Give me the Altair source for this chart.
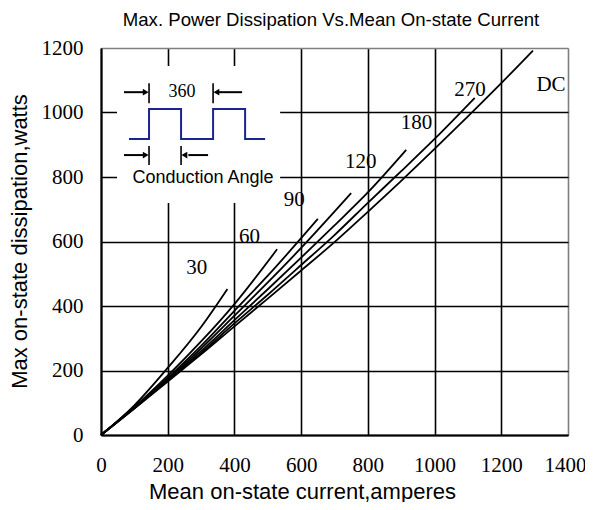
import altair as alt
import pandas as pd

# ---------------- data ----------------
x_ticks = [0, 200, 400, 600, 800, 1000, 1200, 1400]
y_ticks = [0, 200, 400, 600, 800, 1000, 1200]

cur_30 = [0, 100, 200, 300, 379]
pow_30 = [0, 92, 208, 335, 453]
cur_60 = [0, 100, 200, 300, 400, 528]
pow_60 = [0, 87, 184, 290, 406, 576]
cur_90 = [0, 100, 200, 300, 400, 500, 650]
pow_90 = [0, 85, 177, 276, 385, 494, 670]
cur_120 = [0, 100, 200, 300, 400, 500, 600, 750]
pow_120 = [0, 84, 173, 268, 370, 473, 580, 750]
cur_180 = [0, 100, 200, 300, 400, 500, 600, 700, 800, 915]
pow_180 = [0, 83, 170, 260, 356, 452, 550, 650, 752, 884]
cur_270 = [0, 100, 200, 300, 400, 500, 600, 700, 800, 900, 1000, 1120]
pow_270 = [0, 83, 168, 254, 346, 435, 527, 620, 720, 818, 918, 1045]
cur_dc = [0, 100, 200, 300, 400, 500, 600, 700, 800, 900, 1000, 1100, 1200, 1295]
pow_dc = [0, 82, 166, 250, 337, 423, 510, 598, 692, 788, 887, 988, 1091, 1192]

series_names = ["30", "60", "90", "120", "180", "270", "DC"]
series_cur = [cur_30, cur_60, cur_90, cur_120, cur_180, cur_270, cur_dc]
series_pow = [pow_30, pow_60, pow_90, pow_120, pow_180, pow_270, pow_dc]

label_x = [287, 445, 579, 779, 946, 1106, 1349]
label_y = [519, 615, 729, 848, 966, 1070, 1085]

# inset (conduction-angle sketch), in data units
inset_box_x = [48]
inset_box_x2 = [537]
inset_box_y = [719]
inset_box_y2 = [1144]

wave_x = [84, 144, 144, 240, 240, 336, 336, 432, 432, 492]
wave_y = [918, 918, 1011, 1011, 918, 918, 1011, 1011, 918, 918]

bar_x = [144, 336, 144, 240]
bar_y = [1029, 1029, 837, 837]
bar_y2 = [1091, 1091, 896, 896]

arrow_x = [69, 350, 69, 262]
arrow_x2 = [134, 423, 134, 321]
arrow_y = [1063, 1063, 868, 868]
head_x = [134, 346, 134, 250]
head_y = [1063, 1063, 868, 868]
head_shape = ["triangle-right", "triangle-left", "triangle-right", "triangle-left"]

angle_text = ["360"]
angle_text_x = [243]
angle_text_y = [1063]
caption_text = ["Conduction Angle"]
caption_x = [306]
caption_y = [797]

chart_title = ["Max. Power Dissipation Vs.Mean On-state Current"]

# ---------------- tables ----------------
rows = []
for name, xs, ys in zip(series_names, series_cur, series_pow):
    for a, b in zip(xs, ys):
        rows.append({"series": name, "x": a, "y": b})
curves = pd.DataFrame(rows)
labels = pd.DataFrame({"t": series_names, "x": label_x, "y": label_y})
box = pd.DataFrame({"x": inset_box_x, "x2": inset_box_x2, "y": inset_box_y, "y2": inset_box_y2})
wave = pd.DataFrame({"i": list(range(len(wave_x))), "x": wave_x, "y": wave_y})
bars = pd.DataFrame({"x": bar_x, "y": bar_y, "y2": bar_y2})
arrows = pd.DataFrame({"x": arrow_x, "x2": arrow_x2, "y": arrow_y})
heads = pd.DataFrame({"x": head_x, "y": head_y, "shape": head_shape})
atext = pd.DataFrame({"t": angle_text, "x": angle_text_x, "y": angle_text_y})
ctext = pd.DataFrame({"t": caption_text, "x": caption_x, "y": caption_y})
ttext = pd.DataFrame({"t": chart_title})

xscale = alt.Scale(domain=[0, 1400], nice=False, zero=False)
yscale = alt.Scale(domain=[0, 1200], nice=False, zero=False)

x_axis = alt.Axis(
    values=x_ticks, format="d", title="Mean on-state current,amperes", ticks=False,
    labelFont="Liberation Serif", labelFontSize=21, labelColor="black", labelPadding=19,
    labelFlush=False, labelOverlap=False,
    labelOffset={"condition": {"test": "datum.value >= 1400", "value": -3}, "value": 0},
    titleFont="Liberation Sans", titleFontSize=22, titleFontWeight="normal", titleColor="black",
    titleX=201, titleY=63, titleBaseline="alphabetic", titleAnchor="middle", titleAlign="center",
    domainColor="black", domainWidth=2,
    grid=True, gridWidth=1.6,
    gridColor={"condition": {"test": "datum.value >= 1400", "value": "#7f7f7f"}, "value": "black"},
)
y_axis = alt.Axis(
    values=y_ticks, format="d", title="Max on-state dissipation,watts", ticks=False,
    labelFont="Liberation Serif", labelFontSize=21, labelColor="black", labelPadding=18,
    labelFlush=False, labelOverlap=False,
    titleFont="Liberation Sans", titleFontSize=22, titleFontWeight="normal", titleColor="black",
    titleX=-75, titleY=193, titleBaseline="alphabetic", titleAngle=-90, titleAlign="center",
    domainColor="black", domainWidth=2,
    grid=True, gridWidth=1.6,
    gridColor={"condition": {"test": "datum.value >= 1200", "value": "#7f7f7f"}, "value": "black"},
)


def X(f="x"):
    return alt.X(f, type="quantitative", scale=xscale, axis=x_axis)


def Y(f="y"):
    return alt.Y(f, type="quantitative", scale=yscale, axis=y_axis)


curve_layer = alt.Chart(curves).mark_line(color="black", strokeWidth=1.8, interpolate="monotone").encode(
    x=X(), y=Y(), detail="series:N",
)

box_layer = alt.Chart(box).mark_rect(fill="white").encode(
    x=X(), x2="x2:Q", y=Y(), y2="y2:Q"
)

wave_layer = alt.Chart(wave).mark_line(color="#1b2590", strokeWidth=2).encode(
    x=X(), y=Y(), order="i:Q"
)

bar_layer = alt.Chart(bars).mark_rule(color="black", strokeWidth=1.6).encode(
    x=X(), y=Y(), y2="y2:Q"
)

arrow_layer = alt.Chart(arrows).mark_rule(color="black", strokeWidth=2).encode(
    x=X(), x2="x2:Q", y=Y()
)

head_layer = alt.Chart(heads).mark_point(filled=True, color="black", size=45, opacity=1).encode(
    x=X(), y=Y(), shape=alt.Shape("shape:N", scale=None, legend=None)
)

label_layer = alt.Chart(labels).mark_text(font="Liberation Serif", fontSize=21, color="black").encode(
    x=X(), y=Y(), text="t:N"
)

atext_layer = alt.Chart(atext).mark_text(font="Liberation Serif", fontSize=18, color="black").encode(
    x=X(), y=Y(), text="t:N"
)

ctext_layer = alt.Chart(ctext).mark_text(font="Liberation Sans", fontSize=18, color="black").encode(
    x=X(), y=Y(), text="t:N"
)

title_layer = alt.Chart(ttext).mark_text(
    font="Liberation Sans", fontSize=18.6, color="black", baseline="alphabetic", align="center"
).encode(x=alt.value(230), y=alt.value(-22), text="t:N")

chart = alt.layer(
    curve_layer, box_layer, wave_layer, bar_layer, arrow_layer, head_layer,
    label_layer, atext_layer, ctext_layer, title_layer
).properties(
    width=467, height=387,
    autosize=alt.AutoSizeParams(type="none"),
    padding={"left": 93, "top": 40, "right": 17, "bottom": 67},
).configure_view(stroke="#7f7f7f", strokeWidth=2).configure(background="white")

chart.save("out.html", embed_options={"renderer": "svg", "actions": False})
